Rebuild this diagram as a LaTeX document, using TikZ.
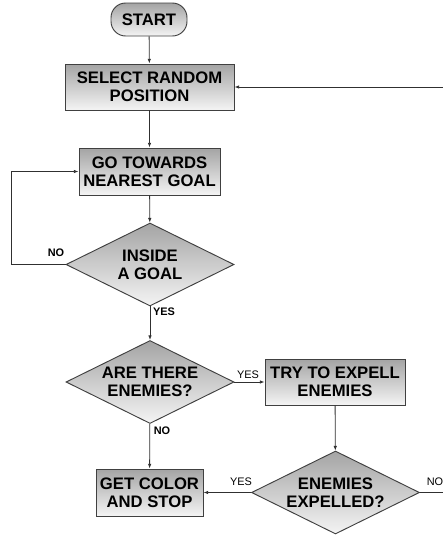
\documentclass[tikz,border=0pt]{standalone}
\usepackage{fontspec}
\setmainfont{Liberation Sans}
\usetikzlibrary{shapes.geometric,arrows.meta}
\definecolor{topgray}{HTML}{A4A4A4}
\definecolor{botgray}{HTML}{F4F4F4}
\definecolor{edge}{HTML}{404040}
\definecolor{linec}{HTML}{303030}
\tikzset{
  shade/.style={top color=topgray, bottom color=botgray, draw=edge, line width=0.7pt},
  procbox/.style={shade, rectangle, inner sep=0pt, align=center,
    font=\bfseries\fontsize{12.5}{13.3}\selectfont},
  termbox/.style={procbox, rounded corners=11pt},
  decbox/.style={shade, diamond, aspect=2.02, inner sep=0pt, align=center,
    minimum width=126pt, minimum height=62.25pt,
    font=\bfseries\fontsize{12.5}{13.3}\selectfont},
  conn/.style={draw=linec, line width=0.6pt, -{Latex[length=3.5pt,width=2.6pt]}},
  plain/.style={draw=linec, line width=0.6pt},
  lbl/.style={inner sep=0pt, font=\fontsize{8.2}{9}\selectfont},
  blbl/.style={inner sep=0pt, font=\bfseries\fontsize{8.2}{9}\selectfont},
}
\begin{document}
\begin{tikzpicture}[x=0.75pt,y=-0.75pt]
\clip (0,0) rectangle (443,536);
\node[termbox, minimum width=57pt, minimum height=24.75pt] (start) at (149,19.5) {START};
\node[procbox, minimum width=126.75pt, minimum height=34.5pt] (select) at (149.5,87) {SELECT RANDOM\\POSITION};
\node[procbox, minimum width=105.75pt, minimum height=35.25pt] (go) at (149.5,171.5) {GO TOWARDS\\NEAREST GOAL};
\node[decbox] (inside) at (150,264.5) {INSIDE\\A GOAL};
\node[decbox] (are) at (150,382) {ARE THERE\\ENEMIES?};
\node[procbox, minimum width=105pt, minimum height=34.5pt] (try) at (335,382) {TRY TO EXPELL\\ENEMIES};
\node[procbox, minimum width=80.25pt, minimum height=35.25pt] (get) at (149.5,492.5) {GET COLOR\\AND STOP};
\node[decbox] (exp) at (335.5,492.5) {ENEMIES\\EXPELLED?};

\coordinate (loopc) at (11,264.5);
\coordinate (offa) at (450,492.5);
\coordinate (offb) at (450,87);

\draw[conn] (start) -- (select);
\draw[conn] (select) -- (go);
\draw[conn] (go) -- (inside);
\draw[conn] (inside.west) -- (loopc) |- (go.west);
\draw[conn] (inside) -- (are);
\draw[conn] (are) -- (try);
\draw[conn] (are) -- (get);
\draw[conn] (try) -- (exp);
\draw[conn] (exp) -- (get);
\draw[conn] (exp.east) -- (offa) -- (offb) -- (select.east);

\node[blbl] (l1) at (56,253) {NO};
\node[blbl] (l2) at (164,312) {YES};
\node[lbl] (l3) at (248,375) {YES};
\node[blbl] (l4) at (162,431) {NO};
\node[lbl] (l5) at (241,482) {YES};
\node[lbl] (l6) at (435,482) {NO};
\end{tikzpicture}
\end{document}
